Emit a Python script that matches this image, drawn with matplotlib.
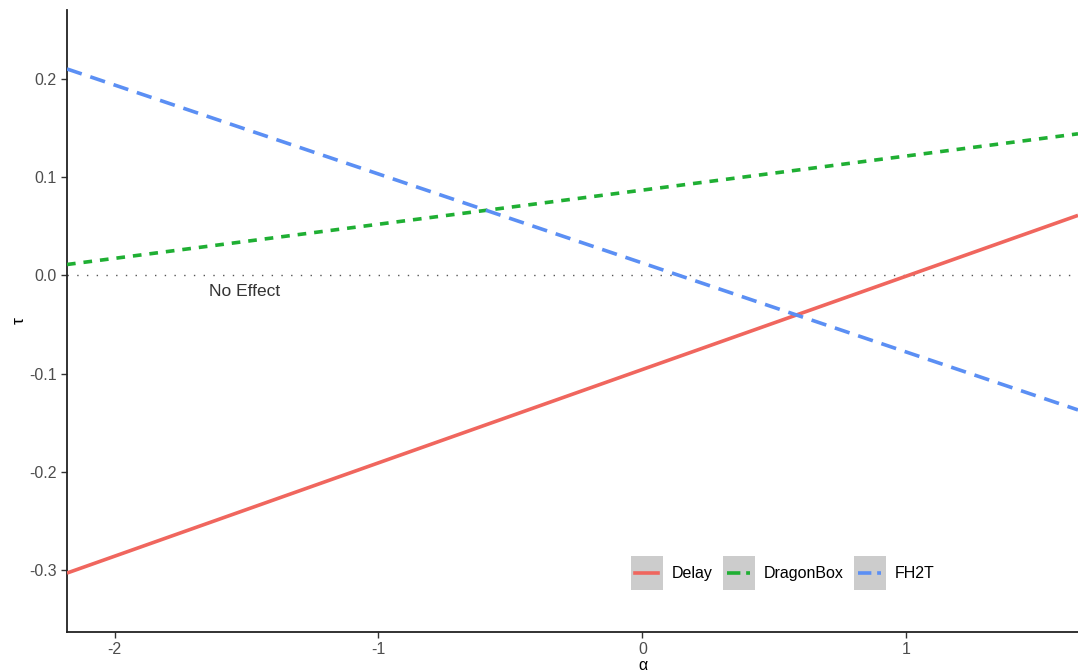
import matplotlib
matplotlib.use("Agg")
import matplotlib.pyplot as plt
from matplotlib.lines import Line2D
from matplotlib.patches import Rectangle
from matplotlib.legend_handler import HandlerBase

# Data: line endpoints
alpha_ends = [-2.18, 1.65]
series_names = ["Delay", "DragonBox", "FH2T"]
tau_delay = [-0.303, 0.061]
tau_dragonbox = [0.011, 0.144]
tau_fh2t = [0.210, -0.137]
x_ticks = [-2, -1, 0, 1]
x_tick_labels = ["-2", "-1", "0", "1"]
y_ticks = [-0.3, -0.2, -0.1, 0.0, 0.1, 0.2]
y_tick_labels = ["-0.3", "-0.2", "-0.1", "0.0", "0.1", "0.2"]

colors = ["#F0665E", "#1FAF33", "#5B8FF4"]
styles = ["-", (0, (2.4, 2.2)), (0, (4.3, 2.5))]

plt.rcParams['font.family'] = ['Liberation Sans', 'DejaVu Sans']

fig = plt.figure(figsize=(10.78, 6.72), dpi=100)
ax = fig.add_axes([67/1078, 1 - 632/672, 1 - 67/1078, 622/672])

ax.axhline(0, color="#555555", lw=1.0, linestyle=(0, (1, 6)), zorder=1)
ax.text(-1.508, -0.009, "No Effect", ha="center", va="top", fontsize=12.5, color="#333333")

for name, tau, c, ls in zip(series_names, [tau_delay, tau_dragonbox, tau_fh2t], colors, styles):
    ax.plot(alpha_ends, tau, color=c, lw=2.6, linestyle=ls, label=name,
            solid_capstyle="butt", dash_capstyle="butt", zorder=3)

ax.set_xlim(-2.18, 1.65)
ax.set_ylim(-0.363, 0.27)
ax.set_xticks(x_ticks)
ax.set_xticklabels(x_tick_labels)
ax.set_yticks(y_ticks)
ax.set_yticklabels(y_tick_labels)
ax.tick_params(axis="both", labelsize=11.5, length=4, width=1.0, colors="#333333",
               labelcolor="#4d4d4d")
ax.tick_params(axis="x", pad=3)
for s in ["top", "right"]:
    ax.spines[s].set_visible(False)
for s in ["left", "bottom"]:
    ax.spines[s].set_linewidth(1.3)
    ax.spines[s].set_color("#222222")

ax.set_xlabel("α", fontsize=11.5)
ax.set_ylabel("τ", fontsize=12.5)
ax.xaxis.set_label_coords((643 - 67) / 1011, -0.041)
ax.yaxis.set_label_coords(-0.040, 0.5)


class KeyHandler(HandlerBase):
    def create_artists(self, legend, orig_handle, xdescent, ydescent, width, height, fontsize, trans):
        rect = Rectangle((-xdescent, -ydescent - 7), width, height + 14, facecolor="#cccccc",
                         edgecolor="none", transform=trans)
        ln = Line2D([-xdescent + 3, -xdescent + width - 3], [height / 2 - ydescent] * 2,
                    color=orig_handle.get_color(), lw=2.6, linestyle=orig_handle.get_linestyle(),
                    transform=trans)
        return [rect, ln]


handles = [h for h in ax.get_lines() if h.get_label() in series_names]
leg = ax.legend(handles=handles, labels=series_names, loc="center", bbox_to_anchor=(0.708, 0.094),
                ncol=3, frameon=False, fontsize=11.5, handlelength=2.0, handleheight=1.0,
                columnspacing=0.6, handletextpad=0.6,
                handler_map={Line2D: KeyHandler()})

fig.savefig("out.png", dpi=100)
